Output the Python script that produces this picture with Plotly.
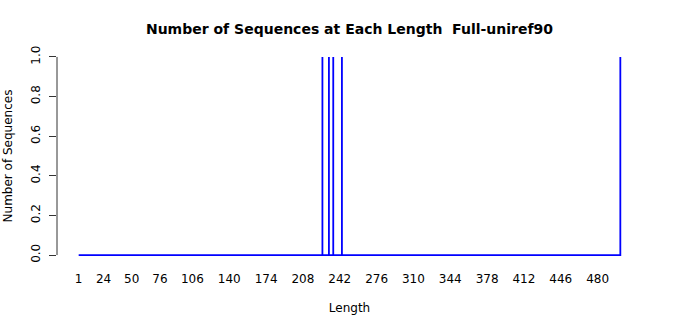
import plotly.graph_objects as go

# Data
max_length = 501
spike_lengths = [226, 232, 236, 244, 501]
spike_counts = [1, 1, 1, 1, 1]
tick_values = [1, 24, 50, 76, 106, 140, 174, 208, 242, 276, 310, 344, 378, 412, 446, 480]
tick_labels = [str(v) for v in tick_values]
y_ticks = [0.0, 0.2, 0.4, 0.6, 0.8, 1.0]
y_tick_labels = ["0.0", "0.2", "0.4", "0.6", "0.8", "1.0"]

counts = dict(zip(spike_lengths, spike_counts))
xs, ys = [], []
for x in range(1, max_length + 1):
    c = counts.get(x, 0)
    if c:
        xs += [x, x, x]
        ys += [0, c, 0]
    else:
        xs.append(x)
        ys.append(0)

font = "DejaVu Sans"
fig = go.Figure()
fig.add_trace(go.Scatter(x=xs, y=ys, mode="lines",
                         line=dict(color="#0000FF", width=1.8), hoverinfo="skip"))

fig.add_shape(type="line", xref="paper", yref="y", x0=0, x1=0, y0=0, y1=1,
              line=dict(color="#333333", width=1))

fig.update_layout(
    width=700, height=315,
    margin=dict(l=57, r=58, t=49, b=52),
    paper_bgcolor="white", plot_bgcolor="white",
    showlegend=False,
    font=dict(family=font, size=12, color="black"),
    title=dict(text="<b>Number of Sequences at Each Length  Full-uniref90</b>",
               x=0.5, xref="paper", xanchor="center", y=1 - 29 / 315, yanchor="middle",
               font=dict(family=font, size=14, color="black")),
    xaxis=dict(range=[-19, 521], tickmode="array", tickvals=tick_values, ticktext=tick_labels,
               showgrid=False, zeroline=False, showline=False, ticks="",
               ticklabelstandoff=7, automargin=False,
               title=dict(text="Length", font=dict(size=12), standoff=20)),
    yaxis=dict(range=[-0.04, 1.04], tickmode="array", tickvals=y_ticks, ticktext=y_tick_labels,
               showgrid=False, zeroline=False, showline=False, ticks="outside",
               ticklen=7, tickcolor="#333333", tickangle=-90, ticklabelstandoff=4,
               automargin=False,
               title=dict(text="Number of Sequences", font=dict(size=12), standoff=14)),
)

fig.write_html("out.html")
